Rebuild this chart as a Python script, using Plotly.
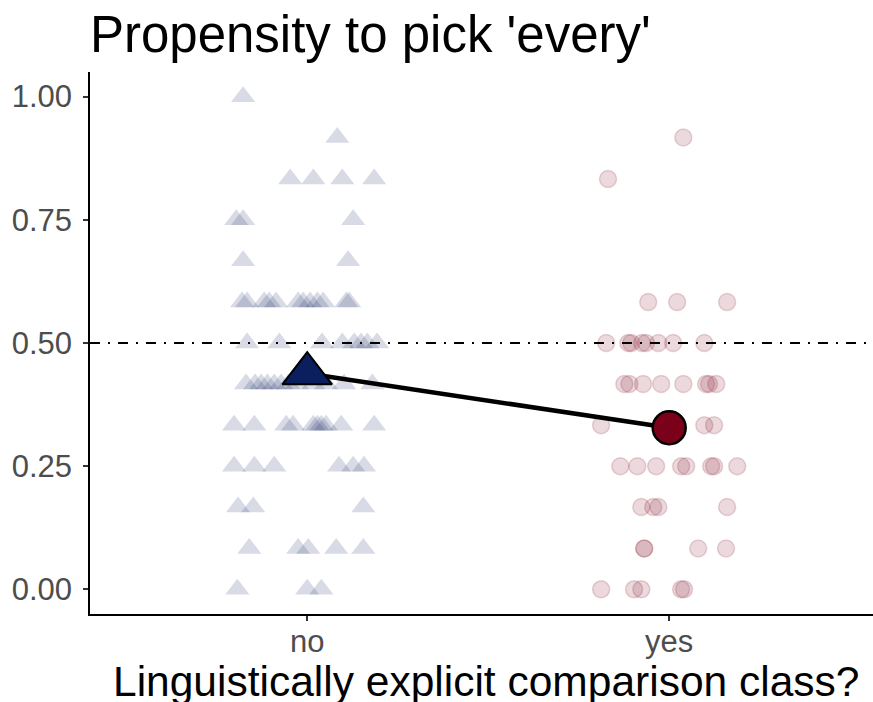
import plotly.graph_objects as go

# ---- data ----
categories = ["no", "yes"]
cat_pos = [1, 2]

# 'no' condition (triangles): response proportion and horizontal jitter (category units)
no_y = [1.000,
        0.917,
        0.833, 0.833, 0.833, 0.833,
        0.750, 0.750, 0.750,
        0.667, 0.667,
        0.583, 0.583, 0.583, 0.583, 0.583, 0.583, 0.583, 0.583, 0.583, 0.583, 0.583, 0.583,
        0.500, 0.500, 0.500, 0.500, 0.500, 0.500, 0.500, 0.500,
        0.417, 0.417, 0.417, 0.417, 0.417, 0.417, 0.417, 0.417, 0.417, 0.417, 0.417, 0.417,
        0.333, 0.333, 0.333, 0.333, 0.333, 0.333, 0.333, 0.333, 0.333, 0.333,
        0.250, 0.250, 0.250, 0.250, 0.250, 0.250,
        0.167, 0.167, 0.167,
        0.083, 0.083, 0.083, 0.083, 0.083,
        0.000, 0.000, 0.000]
no_jit = [-0.177,
          0.083,
          -0.047, 0.017, 0.097, 0.185,
          -0.196, -0.177, 0.127,
          -0.177, 0.113,
          -0.180, -0.166, -0.119, -0.105, -0.086, -0.025, -0.011, 0.008, 0.028, 0.044, 0.108, 0.116,
          -0.166, -0.077, 0.041, 0.097, 0.130, 0.149, 0.166, 0.193,
          -0.169, -0.144, -0.127, -0.110, -0.091, -0.072, -0.052, -0.028, 0.017, 0.052, 0.102, 0.180,
          -0.202, -0.146, -0.058, -0.039, 0.017, 0.028, 0.039, 0.052, 0.094, 0.185,
          -0.202, -0.146, -0.091, 0.088, 0.127, 0.157,
          -0.191, -0.149, 0.155,
          -0.160, -0.025, 0.003, 0.080, 0.155,
          -0.193, 0.000, 0.039]

# 'yes' condition (circles)
yes_y = [0.917,
         0.833,
         0.583, 0.583, 0.583,
         0.500, 0.500, 0.500, 0.500, 0.500, 0.500, 0.500, 0.500,
         0.417, 0.417, 0.417, 0.417, 0.417, 0.417, 0.417, 0.417,
         0.333, 0.333, 0.333,
         0.250, 0.250, 0.250, 0.250, 0.250, 0.250, 0.250, 0.250,
         0.167, 0.167, 0.167, 0.167,
         0.083, 0.083, 0.083, 0.083,
         0.000, 0.000, 0.000, 0.000, 0.000]
yes_jit = [0.039,
           -0.169,
           -0.058, 0.022, 0.160,
           -0.174, -0.113, -0.105, -0.075, -0.064, -0.030, 0.011, 0.097,
           -0.124, -0.110, -0.072, -0.022, 0.039, 0.102, 0.110, 0.130,
           -0.188, 0.097, 0.124,
           -0.135, -0.088, -0.036, 0.033, 0.047, 0.116, 0.124, 0.188,
           -0.077, -0.044, -0.030, 0.160,
           -0.069, -0.069, 0.080, 0.157,
           -0.188, -0.097, -0.077, 0.033, 0.041]

# condition means
mean_vals = [0.438, 0.328]

y_tickvals = [0.00, 0.25, 0.50, 0.75, 1.00]
y_ticktext = ["0.00", "0.25", "0.50", "0.75", "1.00"]
ref_line = 0.5

NAVY = "#0b1f5e"
RED = "#7b0019"
FONT = "Liberation Sans, Arial, sans-serif"

fig = go.Figure()

fig.add_trace(go.Scatter(
    x=[cat_pos[0] + j for j in no_jit], y=no_y, mode="markers",
    marker=dict(symbol="triangle-up", size=21, color="rgba(11,31,94,0.16)",
                line=dict(width=0)),
    hoverinfo="skip", showlegend=False))

fig.add_trace(go.Scatter(
    x=[cat_pos[1] + j for j in yes_jit], y=yes_y, mode="markers",
    marker=dict(symbol="circle", size=17, color="rgba(123,0,25,0.15)",
                line=dict(width=1.5, color="rgba(123,0,25,0.16)")),
    hoverinfo="skip", showlegend=False))

fig.add_shape(type="line", xref="paper", x0=0, x1=1, yref="y", y0=ref_line, y1=ref_line,
              line=dict(color="black", width=2, dash="10px,8px,2px,8px"), layer="above")

fig.add_trace(go.Scatter(
    x=cat_pos, y=mean_vals, mode="lines",
    line=dict(color="black", width=4.5), hoverinfo="skip", showlegend=False))

fig.add_trace(go.Scatter(
    x=[cat_pos[0]], y=[mean_vals[0]], mode="markers",
    marker=dict(symbol="triangle-up", size=43, color=NAVY, line=dict(width=2, color="black")),
    hoverinfo="skip", showlegend=False))
fig.add_trace(go.Scatter(
    x=[cat_pos[1]], y=[mean_vals[1]], mode="markers",
    marker=dict(symbol="circle", size=33, color=RED, line=dict(width=2.5, color="black")),
    hoverinfo="skip", showlegend=False))

fig.add_annotation(
    text="Linguistically explicit comparison class?", xref="paper", yref="paper",
    x=0.506, y=-0.124, xanchor="center", yanchor="middle", showarrow=False,
    font=dict(size=42.5, color="black", family=FONT))

fig.update_layout(
    width=873, height=702,
    margin=dict(l=90, r=0, t=72, b=88),
    paper_bgcolor="white", plot_bgcolor="white",
    font=dict(family=FONT),
    title=dict(text="Propensity to pick 'every'", font=dict(size=51, color="black", family=FONT),
               x=0.103, xanchor="left", xref="container", y=0.9772, yanchor="top",
               automargin=False),
    showlegend=False,
)
fig.update_xaxes(
    range=[0.4, 2.563], tickmode="array", tickvals=cat_pos, ticktext=categories,
    automargin=False, ticklabelstandoff=-6,
    showgrid=False, zeroline=False, showline=True, linecolor="black", linewidth=1.5,
    ticks="outside", ticklen=5, tickwidth=1.5, tickcolor="#333333",
    tickfont=dict(size=31, color="#4d4d4d", family=FONT))
fig.update_yaxes(
    range=[-0.05, 1.05], tickmode="array", tickvals=y_tickvals, ticktext=y_ticktext,
    automargin=False, ticklabelstandoff=5,
    showgrid=False, zeroline=False, showline=True, linecolor="black", linewidth=1.5,
    ticks="outside", ticklen=5, tickwidth=1.5, tickcolor="#333333",
    tickfont=dict(size=31, color="#4d4d4d", family=FONT))

fig.write_html("out.html", config={"displayModeBar": False},
               post_script="document.body.style.margin='0px';")
